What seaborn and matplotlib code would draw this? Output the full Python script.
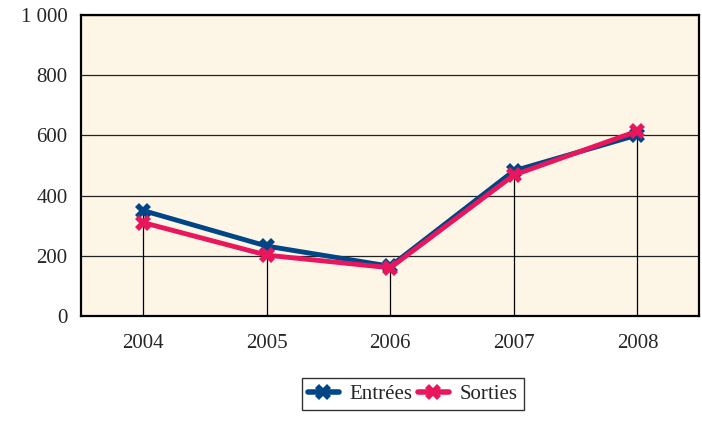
import matplotlib
matplotlib.use('Agg')
import matplotlib.pyplot as plt
import pandas as pd
import seaborn as sns

annees = ['2004', '2005', '2006', '2007', '2008']
entrees = [350, 232, 165, 482, 601]
sorties = [310, 202, 160, 468, 614]

df = pd.DataFrame({'annee': annees * 2,
                   'valeur': entrees + sorties,
                   'serie': ['Entrées'] * 5 + ['Sorties'] * 5})

sns.set_theme(style='white')
plt.rcParams['font.family'] = ['Liberation Serif', 'DejaVu Serif']

fig, ax = plt.subplots(figsize=(7.02, 4.23), dpi=100)
fig.subplots_adjust(left=0.116, right=0.996, top=0.965, bottom=0.253)
ax.set_facecolor('#fdf5e6')

# lignes de rappel verticales
hauts = [max(a, b) for a, b in zip(entrees, sorties)]
ax.vlines(range(len(annees)), 0, hauts, color='black', lw=0.9, zorder=1)

sns.lineplot(data=df, x='annee', y='valeur', hue='serie',
             palette={'Entrées': '#004687', 'Sorties': '#e8175d'},
             marker='X', markersize=11, markeredgewidth=0, lw=3.5,
             ax=ax, zorder=3)

ax.set_xlim(-0.5, 4.5)
ax.set_ylim(0, 1000)
ax.set_yticks([0, 200, 400, 600, 800, 1000])
ax.set_yticklabels(['0', '200', '400', '600', '800', '1 000'])
ax.yaxis.grid(True, color='#222222', lw=0.9)
ax.set_axisbelow(True)
ax.tick_params(axis='y', labelsize=15, length=0, pad=10)
ax.tick_params(axis='x', labelsize=15, length=0, pad=13)
ax.set_xlabel('')
ax.set_ylabel('')
for s in ax.spines.values():
    s.set_color('black')
    s.set_linewidth(1.6)

leg = ax.legend(loc='upper center', bbox_to_anchor=(0.536, -0.206), ncol=2,
                fontsize=15, frameon=True, fancybox=False, edgecolor='black',
                handlelength=1.5, handletextpad=0.5, columnspacing=0.25,
                borderpad=0.3, borderaxespad=0)
leg.get_frame().set_linewidth(1.0)
for h in leg.get_lines():
    h.set_linewidth(4)
    h.set_markersize(12)

plt.savefig('out.png', dpi=100)
